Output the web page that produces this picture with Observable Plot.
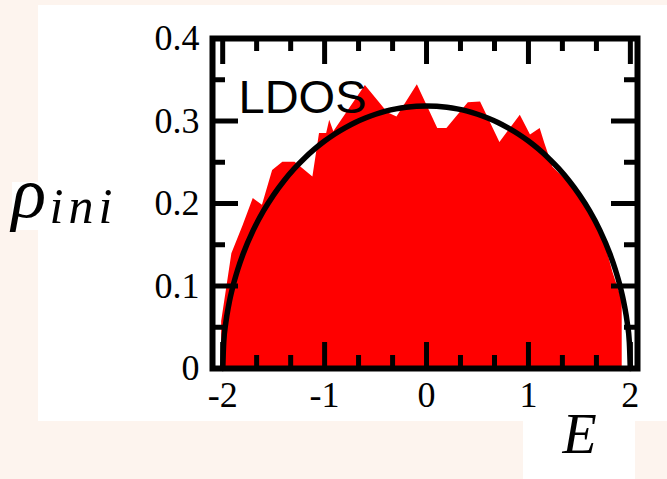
<!DOCTYPE html>
<html>
<head>
<meta charset="utf-8">
<script src="https://cdn.jsdelivr.net/npm/d3@7"></script>
<script src="https://cdn.jsdelivr.net/npm/@observablehq/plot@0.6"></script>
<style>
  html, body { margin: 0; padding: 0; background: #fdf4ee; }
  #wrap { position: relative; width: 667px; height: 479px; overflow: hidden; }
  .pane { position: absolute; background: #ffffff; }
  #chart { position: absolute; left: 0; top: 0; }
</style>
</head>
<body>
<div id="wrap">
  <div class="pane" style="left:38px;top:5px;width:629px;height:416px"></div>
  <div class="pane" style="left:12px;top:182px;width:26px;height:48px"></div>
  <div class="pane" style="left:523px;top:421px;width:112px;height:58px"></div>
  <div id="chart"></div>
</div>
<script>
// ---- data ----
const xMajor = [-2, -1, 0, 1, 2];
const xMinor = [-1.667, -1.333, -0.667, -0.333, 0.333, 0.667, 1.333, 1.667];
const yMajor = [0, 0.1, 0.2, 0.3, 0.4];
const yMinor = [0.05, 0.15, 0.25, 0.35];

// LDOS histogram outline (red filled area)
const ldosE   = [-2.01, -2.01, -1.91, -1.80, -1.70, -1.61, -1.51, -1.41, -1.29, -1.115, -1.05, -0.98, -0.95, -0.91, -0.60, -0.38, -0.29, -0.09, 0.11, 0.20, 0.41, 0.53, 0.72, 0.92, 1.02, 1.115, 1.16, 1.24, 1.44, 1.63, 1.735, 1.83, 1.90, 1.92, 1.92];
const ldosRho = [0, 0.057, 0.139, 0.173, 0.206, 0.198, 0.240, 0.250, 0.250, 0.232, 0.285, 0.285, 0.301, 0.287, 0.343, 0.310, 0.305, 0.344, 0.291, 0.291, 0.322, 0.323, 0.274, 0.307, 0.283, 0.291, 0.273, 0.244, 0.220, 0.188, 0.159, 0.116, 0.090, 0.082, 0];

// semicircle curve (black line)
const semiE   = [-2, -1.99, -1.97, -1.94, -1.9, -1.85, -1.8, -1.7, -1.6, -1.5, -1.4, -1.3, -1.2, -1.1, -1.0, -0.9, -0.8, -0.7, -0.6, -0.5, -0.4, -0.3, -0.2, -0.1, 0, 0.1, 0.2, 0.3, 0.4, 0.5, 0.6, 0.7, 0.8, 0.9, 1.0, 1.1, 1.2, 1.3, 1.4, 1.5, 1.6, 1.7, 1.8, 1.85, 1.9, 1.94, 1.97, 1.99, 2];
const semiRho = [0, 0.0318, 0.0549, 0.0774, 0.0994, 0.1209, 0.1387, 0.1677, 0.1910, 0.2105, 0.2273, 0.2419, 0.2546, 0.2658, 0.2757, 0.2843, 0.2917, 0.2982, 0.3036, 0.3082, 0.3119, 0.3147, 0.3167, 0.3179, 0.3183, 0.3179, 0.3167, 0.3147, 0.3119, 0.3082, 0.3036, 0.2982, 0.2917, 0.2843, 0.2757, 0.2658, 0.2546, 0.2419, 0.2273, 0.2105, 0.1910, 0.1677, 0.1387, 0.1209, 0.0994, 0.0774, 0.0549, 0.0318, 0];

const ldos = ldosE.map((e, i) => ({E: e, rho: ldosRho[i]}));
const semi = semiE.map((e, i) => ({E: e, rho: semiRho[i]}));

const W = 667, H = 479;
const mL = 212, mR = 30, mT = 38, mB = 111;
const innerW = W - mL - mR, innerH = H - mT - mB;
const majLen = 26, minLen = 13;
const serif = "Liberation Serif, Times New Roman, serif";
const sans = "Liberation Sans, Arial, sans-serif";

const chart = Plot.plot({
  width: W, height: H,
  marginLeft: mL, marginRight: mR, marginTop: mT, marginBottom: mB,
  style: {background: "transparent", fontFamily: serif, fontSize: "35px", color: "black", overflow: "visible"},
  x: {domain: [-2.1, 2.07], label: null},
  y: {domain: [0, 0.4], label: null},
  marks: [
    Plot.areaY(ldos, {x: "E", y: "rho", fill: "#ff0000"}),
    Plot.line(semi, {x: "E", y: "rho", stroke: "black", strokeWidth: 5.5, curve: "monotone-x"}),
    // inward ticks: bottom
    Plot.tickX(xMajor, {x: d => d, stroke: "black", strokeWidth: 5, insetTop: innerH - majLen}),
    Plot.tickX(xMinor, {x: d => d, stroke: "black", strokeWidth: 5, insetTop: innerH - minLen}),
    // top
    Plot.tickX(xMajor, {x: d => d, stroke: "black", strokeWidth: 5, insetBottom: innerH - majLen}),
    Plot.tickX(xMinor, {x: d => d, stroke: "black", strokeWidth: 5, insetBottom: innerH - minLen}),
    // left
    Plot.tickY(yMajor, {y: d => d, stroke: "black", strokeWidth: 5, insetRight: innerW - majLen}),
    Plot.tickY(yMinor, {y: d => d, stroke: "black", strokeWidth: 5, insetRight: innerW - minLen}),
    // right
    Plot.tickY(yMajor, {y: d => d, stroke: "black", strokeWidth: 5, insetLeft: innerW - majLen}),
    Plot.tickY(yMinor, {y: d => d, stroke: "black", strokeWidth: 5, insetLeft: innerW - minLen}),
    Plot.frame({stroke: "black", strokeWidth: 6}),
    Plot.axisX({ticks: xMajor, tickSize: 0, tickPadding: 13, fontSize: 36, fontFamily: serif, tickFormat: d => String(d), label: null}),
    Plot.axisY({ticks: yMajor, tickSize: 0, tickPadding: 13, fontSize: 36, fontFamily: serif, tickFormat: d => String(d), label: null}),
    Plot.text(["LDOS"], {text: d => d, frameAnchor: "top-left", dx: 26, dy: 74, textAnchor: "start", lineAnchor: "bottom", fontSize: 47, fontFamily: sans, fill: "black"}),
    Plot.text(["ρ"], {text: d => d, frameAnchor: "top-left", dx: 11 - mL, dy: 216 - mT, textAnchor: "start", lineAnchor: "bottom", fontSize: 72, fontFamily: serif, fontStyle: "italic", fill: "black"}),
    Plot.text(["ini"], {text: d => d, frameAnchor: "top-left", dx: 49 - mL, dy: 222 - mT, textAnchor: "start", lineAnchor: "bottom", fontSize: 50, fontFamily: serif, fontStyle: "italic", fill: "black"}),
    Plot.text(["E"], {text: d => d, frameAnchor: "top-left", dx: 579 - mL, dy: 452 - mT, textAnchor: "middle", lineAnchor: "bottom", fontSize: 56, fontFamily: serif, fontStyle: "italic", fill: "black"})
  ]
});
d3.select(chart).selectAll("text").filter(function() { return this.textContent === "ini"; }).attr("letter-spacing", "5px");
document.getElementById("chart").appendChild(chart);
</script>
</body>
</html>
